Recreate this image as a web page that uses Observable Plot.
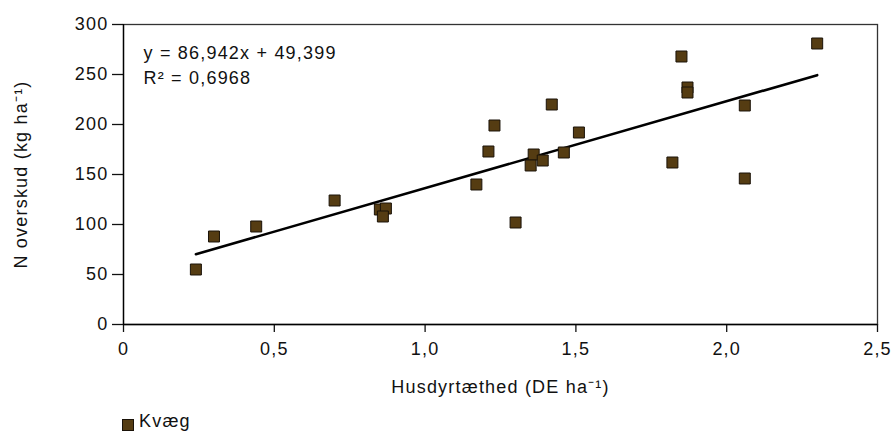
<!DOCTYPE html>
<html>
<head>
<meta charset="utf-8">
<script src="https://cdn.jsdelivr.net/npm/d3@7"></script>
<script src="https://cdn.jsdelivr.net/npm/@observablehq/plot@0.6"></script>
<style>
  html, body { margin: 0; padding: 0; background: #fff; }
  #legend { position: relative; height: 30px; font-family: "Liberation Sans", Arial, sans-serif; font-size: 18px; letter-spacing: 1.2px; color: #111; }
  #legend .sw { position: absolute; left: 122px; top: 14px; width: 10px; height: 10px; background: #553c12; border: 1px solid #1a1208; }
  #legend .lb { position: absolute; left: 139px; top: 6px; }
</style>
</head>
<body>
<div id="chart"></div>
<div id="legend"><span class="sw"></span><span class="lb" id="legendLabel"></span></div>
<script>
// Data: Husdyrtæthed (DE/ha) vs N overskud (kg/ha), series "Kvæg"
const seriesName = "Kvæg";
const density = [0.24, 0.30, 0.44, 0.70, 0.85, 0.87, 0.86, 1.42, 1.23, 1.51, 1.21, 1.36, 1.46, 1.39, 1.35, 1.17, 1.30, 2.30, 1.85, 1.87, 1.87, 2.06, 1.82, 2.06];
const surplus = [55, 88, 98, 124, 115, 116, 108, 220, 199, 192, 173, 170, 172, 164, 159, 140, 102, 281, 268, 237, 232, 219, 162, 146];

// Trend line (from the chart's own equation)
const slope = 86.942;
const intercept = 49.399;
const rSquared = 0.6968;

// Ticks
const xTicks = [0, 0.5, 1.0, 1.5, 2.0, 2.5];
const xTickLabels = ["0", "0,5", "1,0", "1,5", "2,0", "2,5"];
const yTicks = [0, 50, 100, 150, 200, 250, 300];
const yTickLabels = ["0", "50", "100", "150", "200", "250", "300"];

const xLabel = "Husdyrtæthed (DE ha⁻¹)";
const yLabel = "N overskud (kg ha⁻¹)";

const points = density.map((d, i) => ({x: d, y: surplus[i]}));
const [xmin, xmax] = d3.extent(density);
const trend = [xmin, xmax].map(x => ({x, y: slope * x + intercept}));
const fmt = (v) => String(v).replace(".", ",");
const eqText = `y = ${fmt(slope)}x + ${fmt(intercept)}\nR² = ${fmt(rSquared)}`;

const chart = Plot.plot({
  width: 893,
  height: 405,
  marginLeft: 123,
  marginRight: 16,
  marginTop: 24,
  marginBottom: 81,
  style: {fontFamily: "'Liberation Sans', Arial, sans-serif", fontSize: "18px", color: "#111", letterSpacing: "1.2px", background: "#fff"},
  x: {domain: [0, 2.5]},
  y: {domain: [0, 300]},
  marks: [
    Plot.frame({stroke: "#333", strokeWidth: 1.3}),
    Plot.axisY({ticks: yTicks, tickFormat: d => yTickLabels[yTicks.indexOf(d)], tickSize: 11, tickPadding: 4, strokeWidth: 1.3,
      label: yLabel, labelAnchor: "center", labelOffset: 109, labelArrow: "none"}),
    Plot.axisX({ticks: xTicks, tickFormat: d => xTickLabels[xTicks.indexOf(d)], tickSize: 8, tickPadding: 10, strokeWidth: 1.3,
      label: xLabel, labelAnchor: "center", labelOffset: 68, labelArrow: "none"}),
    Plot.ruleX([0], {stroke: "#000", strokeWidth: 1.3}),
    Plot.ruleY([0], {stroke: "#000", strokeWidth: 1.3}),
    Plot.line(trend, {x: "x", y: "y", stroke: "#000", strokeWidth: 2.6}),
    Plot.dot(points, {x: "x", y: "y", symbol: "square", r: 6.2, fill: "#553c12", stroke: "#1a1208", strokeWidth: 1}),
    Plot.text([eqText], {frameAnchor: "top-left", dx: 20, dy: 17, lineAnchor: "top", textAnchor: "start", lineHeight: 1.39, fill: "#111"})
  ]
});
document.getElementById("chart").appendChild(chart);
document.getElementById("legendLabel").textContent = seriesName;
</script>
</body>
</html>
